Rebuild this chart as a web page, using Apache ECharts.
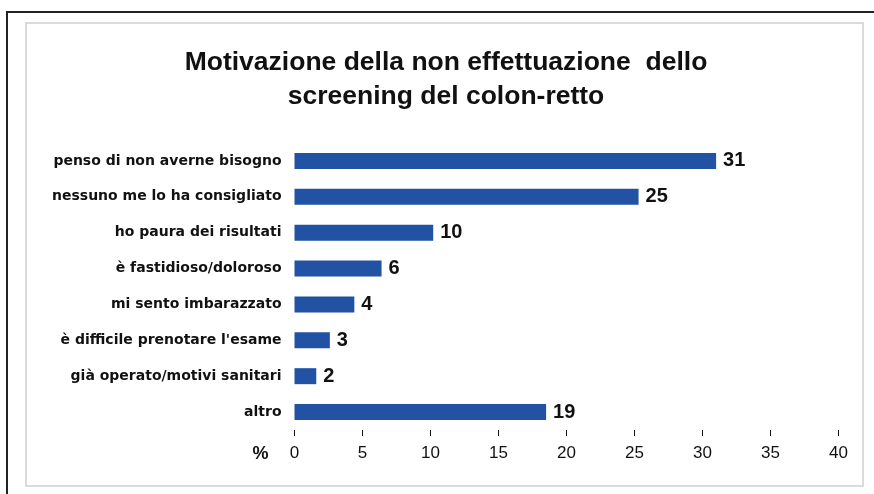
<!DOCTYPE html>
<html>
<head>
<meta charset="utf-8">
<script src="https://cdn.jsdelivr.net/npm/echarts@6/dist/echarts.min.js"></script>
<style>
  html, body { margin: 0; padding: 0; background: #fff; }
</style>
</head>
<body>
<div id="main" style="width: 874px; height: 494px;"></div>
<script>
// categorie (dall'alto in basso)
const categories = [
  'penso di non averne bisogno',
  'nessuno me lo ha consigliato',
  'ho paura dei risultati',
  'è fastidioso/doloroso',
  'mi sento imbarazzato',
  "è difficile prenotare l'esame",
  'già operato/motivi sanitari',
  'altro'
];
// lunghezza delle barre
const values = [31.0, 25.3, 10.2, 6.4, 4.4, 2.6, 1.6, 18.5];
// etichette arrotondate mostrate accanto alle barre
const valueLabels = [31, 25, 10, 6, 4, 3, 2, 19];
const axisMin = 0;
const axisMax = 40;
const axisStep = 5;

const myChart = echarts.init(document.getElementById('main'));
const option = {
  animation: false,
  title: {
    text: 'Motivazione della non effettuazione  dello\nscreening del colon-retto',
    left: 446,
    top: 46,
    textAlign: 'center',
    padding: 0,
    textStyle: {
      fontFamily: 'Liberation Sans',
      fontWeight: 'bold',
      fontSize: 26.5,
      lineHeight: 34,
      color: '#111'
    }
  },
  // cornici attorno al grafico
  graphic: [
    {
      type: 'polyline',
      shape: { points: [[7, 494], [7, 12], [874, 12]] },
      style: { stroke: '#222', lineWidth: 2, fill: null }
    },
    {
      type: 'rect',
      shape: { x: 26, y: 23, width: 837, height: 463 },
      style: { stroke: '#cfcfcf', lineWidth: 1.5, fill: null }
    }
  ],
  grid: {
    left: 294.5,
    right: 35.5,
    top: 143,
    height: 287
  },
  xAxis: {
    type: 'value',
    min: axisMin,
    max: axisMax,
    interval: axisStep,
    name: '%',
    nameLocation: 'start',
    nameGap: 26,
    nameTextStyle: {
      fontFamily: 'Liberation Sans',
      fontWeight: 'bold',
      fontSize: 18,
      color: '#111',
      verticalAlign: 'top',
      lineHeight: 48
    },
    splitLine: { show: false },
    axisLine: { lineStyle: { color: '#111', width: 1 } },
    axisTick: { show: true, inside: false, length: 6, lineStyle: { color: '#111' } },
    axisLabel: {
      margin: 15,
      fontFamily: 'Liberation Sans',
      fontSize: 17,
      color: '#111'
    }
  },
  yAxis: {
    type: 'category',
    data: categories,
    inverse: true,
    axisLine: { show: false },
    axisTick: { show: false },
    axisLabel: {
      margin: 13,
      fontFamily: 'DejaVu Sans',
      fontWeight: 'bold',
      fontSize: 14,
      color: '#111'
    }
  },
  series: [
    {
      type: 'bar',
      data: values,
      barWidth: 16,
      itemStyle: { color: '#2252a3' },
      label: {
        show: true,
        position: 'right',
        distance: 7,
        formatter: p => String(valueLabels[p.dataIndex]),
        fontFamily: 'Liberation Sans',
        fontWeight: 'bold',
        fontSize: 20,
        color: '#111'
      }
    }
  ]
};
myChart.setOption(option);
</script>
</body>
</html>
